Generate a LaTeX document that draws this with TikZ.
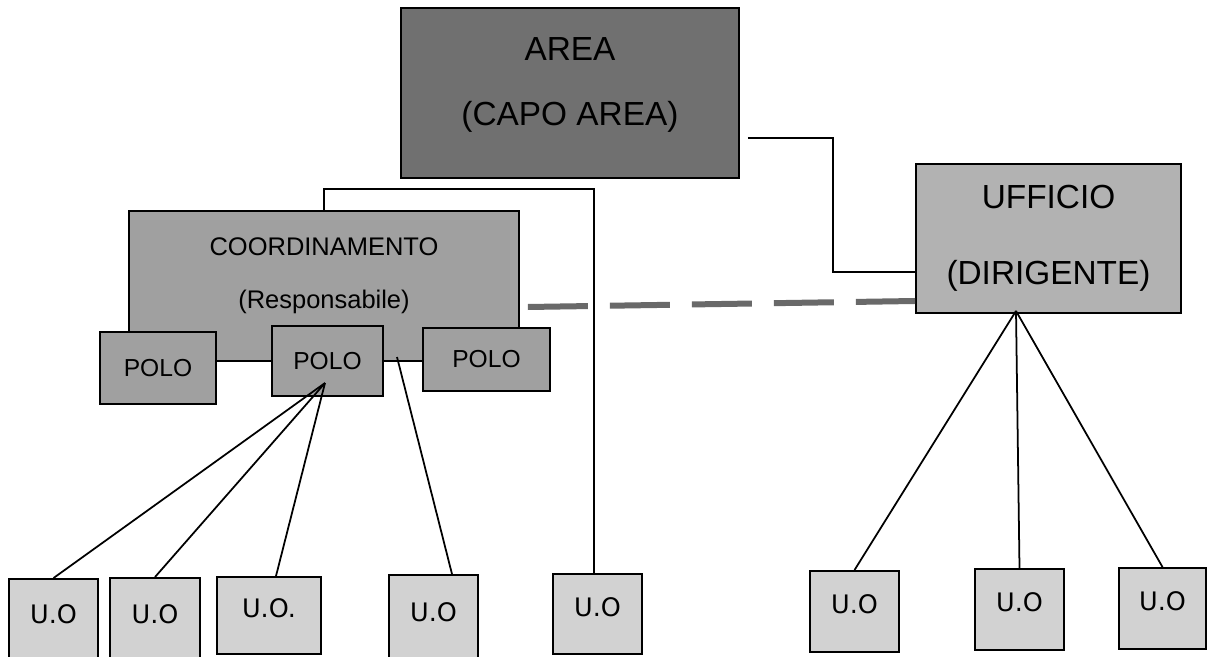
\documentclass[tikz,border=0pt]{standalone}
\usepackage{fontspec}
\setmainfont{Liberation Sans}
\newfontfamily\uofont{DejaVu Sans}
\usetikzlibrary{positioning}
\newcommand\PX{0.02}

\definecolor{areafill}{RGB}{112,112,112}
\definecolor{ufffill}{RGB}{178,178,178}
\definecolor{coordfill}{RGB}{160,160,160}
\definecolor{uofill}{RGB}{210,210,210}
\definecolor{dashgray}{RGB}{105,105,105}

\begin{document}
\begin{tikzpicture}[x=\PX cm,y=-\PX cm,line width=1pt]

  \tikzstyle{every node}=[rectangle,draw,line width=1.1pt,align=center,inner sep=0pt]
  \tikzstyle{big}=[font=\fontsize{19}{23}\selectfont]
  \tikzstyle{polo}=[fill=coordfill,font=\fontsize{14}{17}\selectfont]
  \tikzstyle{uo}=[fill=uofill,font=\uofont\fontsize{14.5}{17}\selectfont,
                  text depth=8pt,minimum width=1.78cm]
  \tikzstyle{dashlink}=[draw=dashgray,line width=0.12cm,dash pattern=on 1.2cm off 0.44cm]

  \useasboundingbox (0,0) rectangle (1207,656);

  \node[big,fill=areafill,minimum width=6.76cm,minimum height=3.4cm,text depth=13pt]
       (area) at (570,93)       {AREA \\[14pt] (CAPO AREA)};
  \node[big,fill=ufffill,minimum width=5.3cm,minimum height=2.98cm]
       (ufficio) at (1048.5,238.5) {UFFICIO \\[20pt] (DIRIGENTE)};
  \node[fill=coordfill,font=\fontsize{14.5}{17}\selectfont,
        minimum width=7.8cm,minimum height=3cm,text depth=15pt]
       (coord) at (324,286)     {COORDINAMENTO \\[13pt] (Responsabile)};

  \node[polo,minimum width=2.32cm,minimum height=1.44cm] (polo1) at (158,368)   {POLO};
  \node[polo,minimum width=2.22cm,minimum height=1.4cm]  (polo2) at (327.5,361) {POLO};
  \node[polo,minimum width=2.54cm,minimum height=1.26cm] (polo3) at (486.5,359.5) {POLO};

  \node[uo,minimum height=1.7cm]                    (uo1) at (53.5,621.5)  {U.O};
  \node[uo,minimum height=1.72cm,minimum width=1.8cm] (uo2) at (155,621)    {U.O};
  \node[uo,minimum height=1.54cm,minimum width=2.08cm] (uo3) at (269,615.5) {U.O.};
  \node[uo,minimum height=1.78cm]                   (uo4) at (433.5,619.5) {U.O};
  \node[uo,minimum height=1.6cm]                    (uo5) at (597.5,614)   {U.O};
  \node[uo,minimum height=1.62cm]                   (uo6) at (854.5,611.5) {U.O};
  \node[uo,minimum height=1.62cm]                   (uo7) at (1019.5,609.5) {U.O};
  \node[uo,minimum height=1.62cm,minimum width=1.74cm] (uo8) at (1162.5,608.5) {U.O};

  \coordinate (polofan)   at ([xshift=-0.05cm,yshift=-0.44cm]polo2.center);
  \coordinate (coordlink) at (397,357);
  \coordinate (uffan)     at ([xshift=-0.65cm,yshift=0.06cm]ufficio.south);

  \draw ([xshift=0.16cm,yshift=-0.9cm]area.east) -- ++(85,0)
        |- ([yshift=-0.67cm]ufficio.west);
  \draw (coord.north) -- ++(0,-21) -| ([xshift=-0.07cm]uo5.north);
  \path[dashlink] ([xshift=0.16cm,yshift=-0.42cm]coord.east) -- ([yshift=-1.25cm]ufficio.west);

  \path
  (polofan)   edge (uo1.north)
  (polofan)   edge (uo2.north)
  (polofan)   edge ([xshift=0.14cm]uo3.north)
  (coordlink) edge ([xshift=0.37cm]uo4.north)

  (uffan) edge (uo6.north)
  (uffan) edge (uo7.north)
  (uffan) edge (uo8.north)
  ;
\end{tikzpicture}
\end{document}
